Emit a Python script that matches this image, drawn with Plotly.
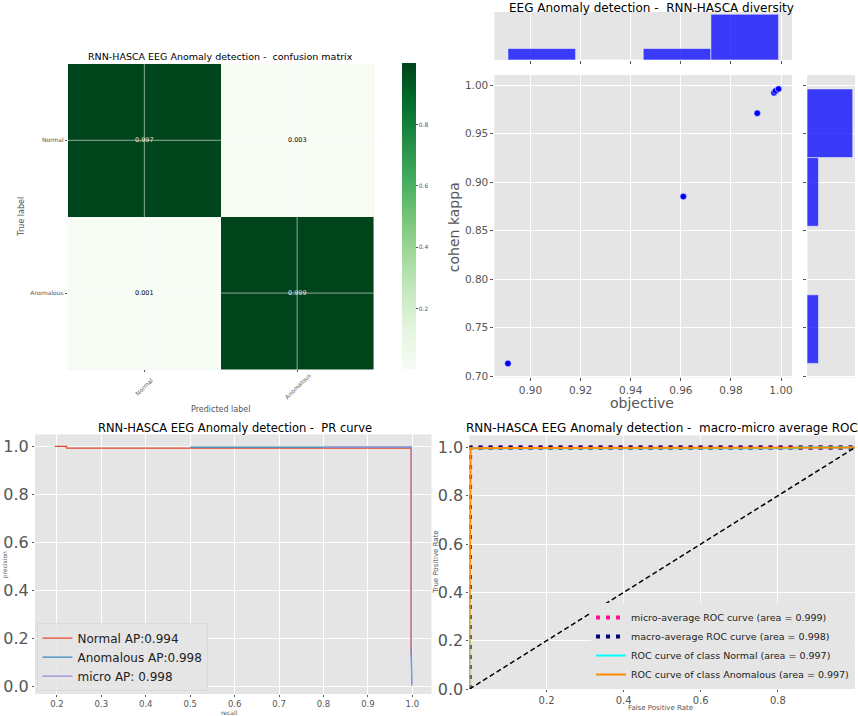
import numpy as np
import plotly.graph_objects as go

W, H = 858, 716          # reference picture size, used for placing things
PAGE_H = 725             # the page is photographed slightly taller and squeezed to 716
FONT = "DejaVu Sans"
GRAY = "#555555"
BG = "#E5E5E5"

# confusion matrix
cm_labels = ["Normal", "Anomalous"]
cm_values = [[0.997, 0.003],
             [0.001, 0.999]]

# diversity scatter (objective vs cohen kappa)
objective = [0.891, 0.961, 0.9905, 0.9972, 0.9978, 0.999]
cohen_kappa = [0.713, 0.885, 0.971, 0.992, 0.994, 0.996]

# PR curves
pr_normal_recall = [0.195, 0.222, 0.222, 0.997, 0.997]
pr_normal_precision = [1.0, 1.0, 0.993, 0.993, 0.13]
pr_anom_recall = [0.50, 0.998, 0.998, 0.999]
pr_anom_precision = [0.997, 0.997, 0.15, 0.01]
pr_micro_recall = [0.80, 0.998, 0.998, 0.997, 0.997, 0.999]
pr_micro_precision = [0.997, 0.997, 0.16, 0.16, 0.12, 0.0]
pr_names = ["Normal AP:0.994", "Anomalous AP:0.998", "micro AP: 0.998"]

# ROC curves
roc_micro_fpr = [0.0, 0.0, 0.002, 1.0]
roc_micro_tpr = [0.0, 0.996, 1.0, 1.0]
roc_macro_fpr = [0.0, 0.0, 0.003, 1.0]
roc_macro_tpr = [0.0, 0.995, 1.0, 1.0]
roc_normal_fpr = [0.0, 0.0, 0.85, 0.85, 1.0]
roc_normal_tpr = [0.0, 0.997, 0.997, 1.0, 1.0]
roc_anom_fpr = [0.0, 0.0, 0.003, 1.0]
roc_anom_tpr = [0.0, 0.15, 0.997, 1.0]
roc_names = ["micro-average ROC curve (area = 0.999)",
             "macro-average ROC curve (area = 0.998)",
             "ROC curve of class Normal (area = 0.997)",
             "ROC curve of class Anomalous (area = 0.997)"]

greens = [[0.0, "#f7fcf5"], [0.125, "#e5f5e0"], [0.25, "#c7e9c0"],
          [0.375, "#a1d99b"], [0.5, "#74c476"], [0.625, "#41ab5d"],
          [0.75, "#238b45"], [0.875, "#006d2c"], [1.0, "#00441b"]]


def px_x(a, b):
    return [a / W, b / W]


def px_y(top, bottom):
    return [1 - bottom / H, 1 - top / H]


fig = go.Figure()

# --- confusion matrix
fig.add_trace(go.Heatmap(
    z=cm_values, x=cm_labels, y=cm_labels, colorscale=greens,
    xaxis="x", yaxis="y", hoverinfo="skip",
    colorbar=dict(x=402 / W, xanchor="left", y=1 - 370 / H, yanchor="bottom",
                  len=306 / H, lenmode="fraction", thickness=14,
                  outlinewidth=0, xpad=0, ypad=0,
                  tickvals=[0.2, 0.4, 0.6, 0.8], ticks="outside", ticklen=2,
                  tickcolor=GRAY, tickfont=dict(size=6, color=GRAY)),
))

# --- diversity scatter + marginals
fig.add_trace(go.Scatter(
    x=objective, y=cohen_kappa, mode="markers", xaxis="x2", yaxis="y2",
    marker=dict(color="blue", size=6.5, line=dict(color="white", width=0.5)),
    showlegend=False,
))
cx, ex = np.histogram(objective, bins=4)
fig.add_trace(go.Bar(
    x=(ex[:-1] + ex[1:]) / 2, y=cx, width=np.diff(ex), xaxis="x3", yaxis="y3",
    marker=dict(color="rgba(0,0,255,0.75)", line=dict(color="white", width=0.5)),
    showlegend=False,
))
cy, ey = np.histogram(cohen_kappa, bins=4)
fig.add_trace(go.Bar(
    y=(ey[:-1] + ey[1:]) / 2, x=cy, width=np.diff(ey), orientation="h",
    xaxis="x4", yaxis="y4",
    marker=dict(color="rgba(0,0,255,0.75)", line=dict(color="white", width=0.5)),
    showlegend=False,
))

# --- PR curves
for rx, py, name, col in [
    (pr_normal_recall, pr_normal_precision, pr_names[0], "#E24A33"),
    (pr_anom_recall, pr_anom_precision, pr_names[1], "#348ABD"),
    (pr_micro_recall, pr_micro_precision, pr_names[2], "#988ED5"),
]:
    fig.add_trace(go.Scatter(x=rx, y=py, mode="lines", name=name,
                             line=dict(color=col, width=1.2),
                             xaxis="x5", yaxis="y5", legend="legend"))

# --- ROC curves
for fx, ty, name, col, dash, lw in [
    (roc_micro_fpr, roc_micro_tpr, roc_names[0], "deeppink", "4px,6px", 4),
    (roc_macro_fpr, roc_macro_tpr, roc_names[1], "navy", "4px,6px", 4),
    (roc_normal_fpr, roc_normal_tpr, roc_names[2], "aqua", "solid", 2),
    (roc_anom_fpr, roc_anom_tpr, roc_names[3], "darkorange", "solid", 2),
]:
    fig.add_trace(go.Scatter(x=fx, y=ty, mode="lines", name=name,
                             line=dict(color=col, width=lw, dash=dash),
                             xaxis="x6", yaxis="y6", legend="legend2"))
fig.add_trace(go.Scatter(x=[0, 1], y=[0, 1], mode="lines", showlegend=False,
                         line=dict(color="black", width=1.5, dash="5px,3px"),
                         xaxis="x6", yaxis="y6"))

# --- cell text and grid lines over the heatmap
thresh = 0.5
annotations = []
for i, row in enumerate(cm_values):
    for j, v in enumerate(row):
        annotations.append(dict(
            x=j, y=i, xref="x", yref="y", text=f"{v:.3f}", showarrow=False,
            font=dict(size=6.5, color="#e0e0e0" if v > thresh else "black")))
shapes = []
for k, _ in enumerate(cm_labels):
    shapes.append(dict(type="line", xref="x", yref="y domain", x0=k, x1=k,
                       y0=0, y1=1, layer="above",
                       line=dict(color="rgba(255,255,255,0.55)", width=1)))
    shapes.append(dict(type="line", xref="x domain", yref="y", x0=0, x1=1,
                       y0=k, y1=k, layer="above",
                       line=dict(color="rgba(255,255,255,0.55)", width=1)))
for j, lab in enumerate(cm_labels):
    annotations.append(dict(x=j, y=1 - 387 / H, xref="x", yref="paper",
                            text=lab, showarrow=False, textangle=-45,
                            font=dict(size=6, color=GRAY)))


def note(text, x, y, size, color="black", angle=0):
    annotations.append(dict(x=x / W, y=1 - y / H, xref="paper", yref="paper",
                            text=text, showarrow=False, textangle=angle,
                            xanchor="center", yanchor="middle",
                            font=dict(size=size, color=color)))


sp = "\u00a0"
note(f"RNN-HASCA EEG Anomaly detection -{sp} confusion matrix", 221, 57, 9.5)
note("True label", 22, 217, 8, GRAY, -90)
note("Predicted label", 221, 410, 8, GRAY)
note(f"EEG Anomaly detection -{sp} RNN-HASCA diversity", 652, 8, 12)
note("cohen kappa", 454, 227, 14, GRAY, -90)
note("objective", 643, 404, 14, GRAY)
note(f"RNN-HASCA EEG Anomaly detection -{sp} PR curve", 235, 429, 11.5)
note("precision", 5, 565, 6, GRAY, -90)
note("recall", 230, 713, 6, GRAY)
note(f"RNN-HASCA EEG Anomaly detection -{sp} macro-micro average ROC", 663, 429, 12)
note("True Positive Rate", 437, 563, 7, GRAY, -90)
note("False Positive Rate", 661, 709, 7, GRAY)

gg = dict(showgrid=True, gridcolor="white", gridwidth=1, zeroline=False,
          showline=False, ticks="outside", ticklen=3, tickcolor=GRAY,
          tickfont=dict(color=GRAY))

obj_range = [0.8856, 1.0044]
kap_range = [0.6985, 1.0105]

fig.update_layout(
    width=W, height=PAGE_H, margin=dict(l=0, r=0, t=0, b=0),
    paper_bgcolor="white", plot_bgcolor=BG,
    font=dict(family=FONT, color="black"),
    annotations=annotations, shapes=shapes,
    xaxis=dict(domain=px_x(68, 374), anchor="y", type="category",
               range=[-0.5, 1.5], showgrid=False, zeroline=False,
               showticklabels=False, ticks="outside", ticklen=2,
               tickcolor=GRAY),
    yaxis=dict(domain=px_y(64, 370), anchor="x", type="category",
               range=[1.5, -0.5], showgrid=False, zeroline=False,
               ticks="outside", ticklen=2, tickcolor=GRAY,
               tickfont=dict(size=6, color=GRAY)),
    xaxis2=dict(gg, domain=px_x(495, 793), anchor="y2", range=obj_range,
                dtick=0.02, tickformat=".2f", tickfont=dict(size=10.5, color=GRAY)),
    yaxis2=dict(gg, domain=px_y(75, 378), anchor="x2", range=kap_range,
                dtick=0.05, tickformat=".2f", tickfont=dict(size=10.5, color=GRAY)),
    xaxis3=dict(gg, domain=px_x(495, 793), anchor="y3", range=obj_range,
                dtick=0.02, showticklabels=False),
    yaxis3=dict(domain=px_y(12, 60), anchor="x3", range=[0, 4.2],
                showgrid=False, zeroline=False, showticklabels=False),
    xaxis4=dict(domain=px_x(808, 856), anchor="y4", range=[0, 4.2],
                showgrid=False, zeroline=False, showticklabels=False),
    yaxis4=dict(gg, domain=px_y(75, 378), anchor="x4", range=kap_range,
                dtick=0.05, showticklabels=False),
    xaxis5=dict(gg, domain=px_x(35, 432), anchor="y5", range=[0.1506, 1.043],
                dtick=0.1, tickformat=".1f", ticklen=2,
                tickfont=dict(size=8.5, color=GRAY)),
    yaxis5=dict(gg, domain=px_y(435, 695), anchor="x5", range=[-0.033, 1.05],
                dtick=0.2, tickformat=".1f", ticklen=2,
                tickfont=dict(size=16, color=GRAY)),
    xaxis6=dict(gg, domain=px_x(470, 856), anchor="y6", range=[0, 1],
                tickvals=[0.2, 0.4, 0.6, 0.8], tickformat=".1f", ticklen=2,
                tickfont=dict(size=10, color=GRAY)),
    yaxis6=dict(gg, domain=px_y(436, 690), anchor="x6", range=[0, 1.05],
                dtick=0.2, tickformat=".1f", ticklen=2,
                tickfont=dict(size=16, color=GRAY)),
    legend=dict(x=37 / W, y=1 - 692 / H, xanchor="left", yanchor="bottom",
                bgcolor="rgba(229,229,229,0.85)", bordercolor="#d0d0d0",
                borderwidth=0.5, font=dict(size=12, color="#222222"),
                tracegroupgap=0),
    legend2=dict(x=855 / W, y=1 - 690 / H, xanchor="right", yanchor="bottom",
                 bgcolor=BG, borderwidth=0,
                 font=dict(size=9.5, color="#222222"), tracegroupgap=0),
)

page_css = (
    "var s=document.createElement('style');"
    "s.textContent='html,body{margin:0;padding:0;overflow:hidden}"
    "#{plot_id}{position:absolute;left:0;top:0}';"
    "document.head.appendChild(s);"
)
fig.write_html("out.html", config={"displayModeBar": False},
               post_script=page_css)
